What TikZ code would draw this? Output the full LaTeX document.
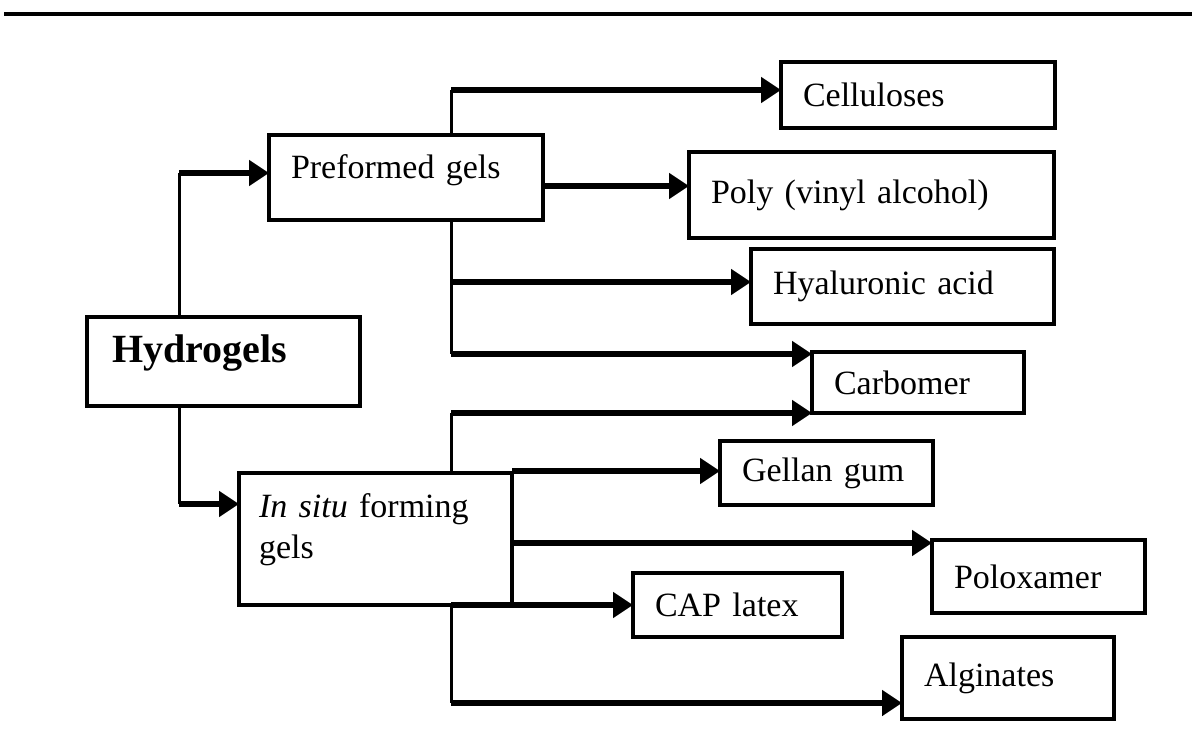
\documentclass[tikz,border=0pt]{standalone}
\usepackage{fontspec}
\setmainfont{Liberation Serif}
\usetikzlibrary{arrows.meta}

\begin{document}
\begin{tikzpicture}[
            x=1pt, y=-1pt,
            gel box/.style 2 args={draw,line width=3.5pt,fill=white,anchor=north west,outer sep=0pt,
                inner xsep=22pt,inner ysep=0pt,align=left,text width=#1,minimum height=#2,
                font=\fontsize{34}{41}\selectfont},
            stem/.style={draw,line width=3pt},
            every edge/.style={draw,line width=6pt,-{Triangle[length=20pt,width=25pt]}},
        ]
            \useasboundingbox (0,0) rectangle (1192,753);
            \draw[line width=4pt] (4,14) -- (1192,14);

            \node[gel box={223pt}{89pt},inner xsep=25pt,text depth=25pt,
                font=\fontsize{40}{48}\selectfont\bfseries] (hyd) at (87,317) {Hydrogels};
            \node[gel box={230pt}{85pt},text depth=22pt] (pre) at (269,135) {Preformed gels};
            \node[gel box={233pt}{132pt},inner xsep=20pt,text depth=67pt] (ins) at (239,473) {\textit{In situ} forming\\gels};

            \node[gel box={230pt}{66pt}] (cel) at (781,62) {Celluloses};
            \node[gel box={321pt}{86pt}] (pva) at (689,152) {Poly (vinyl alcohol)};
            \node[gel box={259pt}{75pt}] (hya) at (751,249) {Hyaluronic acid};
            \node[gel box={168pt}{61pt}] (carb) at (812,352) {Carbomer};
            \node[gel box={169pt}{64pt}] (gel) at (720,441) {Gellan gum};
            \node[gel box={169pt}{73pt}] (polo) at (932,540) {Poloxamer};
            \node[gel box={165pt}{64pt}] (cap) at (633,573) {CAP latex};
            \node[gel box={168pt}{82pt}] (alg) at (902,637) {Alginates};

            % Hydrogels
            \coordinate (h1) at (179,173);
            \coordinate (h2) at (179,504);
            \draw[stem] (hyd.north -| h1) -- (h1);
            \draw[stem] (hyd.south -| h2) -- (h2);
            \path (h1) edge (pre.west |- h1);
            \path (h2) edge (ins.west |- h2);

            % preformed gels
            \coordinate (p1) at (451,90);
            \coordinate (p2) at (451,282);
            \coordinate (p3) at (451,354);
            \coordinate (pv) at (543,186);
            \draw[stem] (p1) -- (pre.north -| p1);
            \draw[stem] (pre.south -| p1) -- (p3);
            \path (p1) edge (cel.west |- p1);
            \path (pre.east |- pv) edge (pva.west |- pv);
            \path (p2) edge (hya.west |- p2);
            \path (p3) edge (carb.west |- p3);

            % in situ forming gels
            \coordinate (s1) at (451,413);
            \coordinate (s2) at (512,471);
            \coordinate (s3) at (512,543);
            \coordinate (s4) at (451,703);
            \draw[stem] (s1) -- (ins.north -| s1);
            \draw[stem] (ins.south -| s1) -- (s4);
            \path (s1) edge (carb.west |- s1);
            \path (ins.east |- s2) edge (gel.west |- s2);
            \path (ins.east |- s3) edge (polo.west |- s3);
            \path (ins.south -| s1) edge (cap.west |- ins.south);
            \path (s4) edge (alg.west |- s4);
        \end{tikzpicture}
\end{document}
